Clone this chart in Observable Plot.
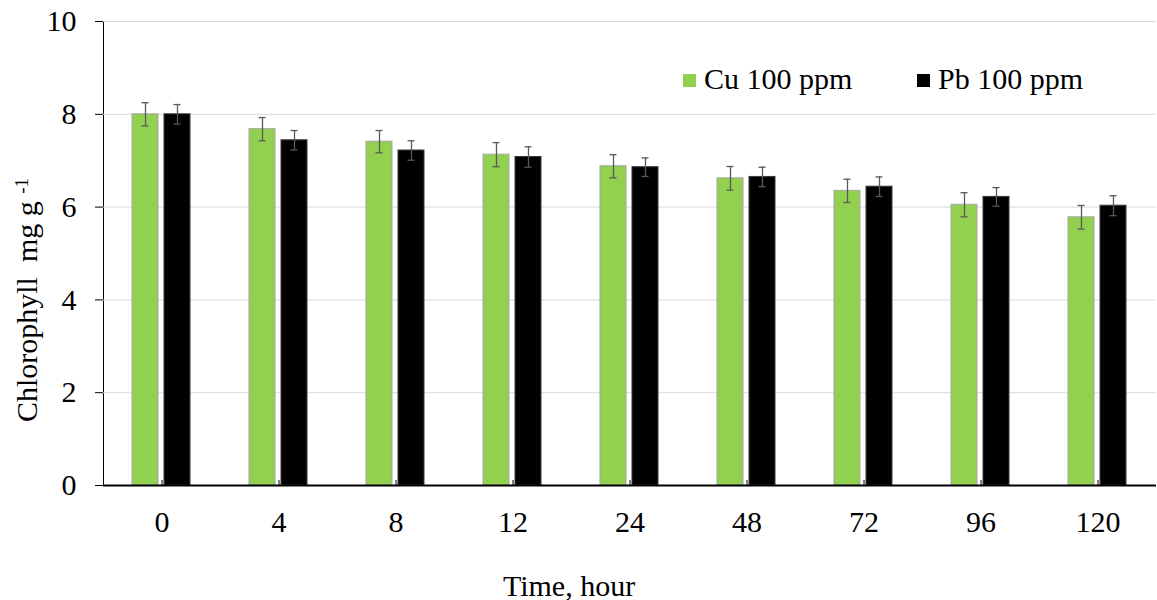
<!DOCTYPE html>
<html>
<head>
<meta charset="utf-8">
<script src="https://cdn.jsdelivr.net/npm/d3@7"></script>
<script src="https://cdn.jsdelivr.net/npm/@observablehq/plot@0.6"></script>
<style>
  html, body { margin: 0; padding: 0; background: #fff; }
  #wrap { position: relative; width: 1157px; height: 600px; font-family: "Liberation Serif", "Times New Roman", serif; }
  #wrap svg, #wrap svg text { font-family: "Liberation Serif", "Times New Roman", serif !important; }
  .lg { position: absolute; top: 64px; font-family: "Liberation Serif", "Times New Roman", serif; font-size: 30px; line-height: 30px; color: #000; white-space: nowrap; }
  .sw { display: inline-block; width: 13px; height: 13px; margin-right: 8px; vertical-align: 2px; }
</style>
</head>
<body>
<div id="wrap"></div>
<script>
const times = ["0", "4", "8", "12", "24", "48", "72", "96", "120"];
const series = ["Cu 100 ppm", "Pb 100 ppm"];
const cuMean = [8.00, 7.68, 7.41, 7.13, 6.88, 6.62, 6.35, 6.05, 5.78];
const cuErr  = [0.25, 0.25, 0.24, 0.26, 0.25, 0.255, 0.25, 0.26, 0.255];
const pbMean = [8.00, 7.44, 7.22, 7.08, 6.86, 6.65, 6.44, 6.22, 6.03];
const pbErr  = [0.21, 0.21, 0.21, 0.22, 0.20, 0.21, 0.21, 0.20, 0.215];
const yTicks = [0, 2, 4, 6, 8, 10];
const colors = ["#92d050", "#000000"];
const outlines = ["#a6a6a6", "#3a3a3a"];

const rows = times.flatMap((t, i) => [
  {time: t, series: series[0], value: cuMean[i], err: cuErr[i]},
  {time: t, series: series[1], value: pbMean[i], err: pbErr[i]}
]);

const chart = Plot.plot({
  width: 1157,
  height: 600,
  marginLeft: 103,
  marginRight: 1,
  marginTop: 21,
  marginBottom: 115,
  style: {fontFamily: "Liberation Serif, serif", fontSize: "30px", color: "#000", background: "#fff", overflow: "visible"},
  fx: {domain: times, padding: 0, label: null, tickSize: -5, tickPadding: 30},
  x: {domain: series, axis: null, paddingInner: 6 / 33, paddingOuter: 0.864},
  y: {domain: [0, 10], ticks: yTicks, tickSize: 8, tickPadding: 19, label: null, line: true},
  marks: [
    Plot.gridY(yTicks, {stroke: "#d9d9d9", strokeOpacity: 1, strokeWidth: 1}),
    ...series.map((s, k) => Plot.barY(rows.filter(d => d.series === s), {
      fx: "time", x: "series", y: "value", fill: colors[k], stroke: outlines[k], strokeWidth: 1
    })),
    Plot.ruleX(rows, {fx: "time", x: "series", y1: d => d.value - d.err, y2: d => d.value + d.err, stroke: "#595959", strokeWidth: 1.3}),
    Plot.tickY(rows, {fx: "time", x: "series", y: d => d.value - d.err, stroke: "#595959", strokeWidth: 1.3, insetLeft: 9.5, insetRight: 9.5}),
    Plot.tickY(rows, {fx: "time", x: "series", y: d => d.value + d.err, stroke: "#595959", strokeWidth: 1.3, insetLeft: 9.5, insetRight: 9.5}),
    Plot.ruleY([0], {stroke: "#000", strokeWidth: 2})
  ]
});

const wrap = document.getElementById("wrap");
wrap.appendChild(chart);

const svg = d3.select(chart);
// Y axis label with superscript
const yl = svg.append("text")
  .attr("transform", "translate(37,300) rotate(-90)")
  .attr("text-anchor", "middle")
  .attr("fill", "#000")
  .style("font-size", "30px");
yl.append("tspan").text("Chlorophyll  mg g ");
yl.append("tspan").attr("dy", "-0.5em").style("font-size", "19px").text("-1");
// X axis label
svg.append("text")
  .attr("x", 569).attr("y", 596)
  .attr("text-anchor", "middle")
  .attr("fill", "#000")
  .style("font-size", "30px")
  .text("Time, hour");

// Legend
series.forEach((s, k) => {
  const el = document.createElement("div");
  el.className = "lg";
  el.style.left = (k === 0 ? 683 : 917) + "px";
  el.innerHTML = `<span class="sw" style="background:${colors[k]}"></span>${s}`;
  wrap.appendChild(el);
});
</script>
</body>
</html>
